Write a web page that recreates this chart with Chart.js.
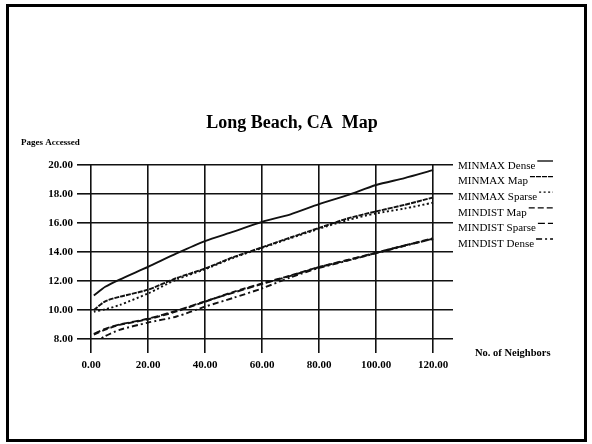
<!DOCTYPE html>
<html>
<head>
  <title>Long Beach, CA Map</title>
  <script src="https://cdn.jsdelivr.net/npm/chart.js"></script>
  <style>
    html, body { margin: 0; padding: 0; background: #fff; }
  </style>
</head>
<body>
  <div style="width: 592px; height: 444px;">
    <canvas id="lbChart" width="592" height="444"></canvas>
  </div>

  <script>
    // values
    const neighbors = [1, 5, 10, 20, 30, 40, 50, 60, 70, 80, 90, 100, 110, 120];
    const xTickValues = [0, 20, 40, 60, 80, 100, 120];

    const minmaxDense  = [11.0, 11.6, 12.1, 12.98, 13.9, 14.75, 15.4, 16.08, 16.6, 17.3, 17.92, 18.62, 19.1, 19.65];
    const minmaxMap    = [10.0, 10.6, 10.91, 11.4, 12.2, 12.86, 13.65, 14.32, 15.0, 15.66, 16.31, 16.8, 17.25, 17.76];
    const minmaxSparse = [9.88, 10.05, 10.34, 11.14, 12.1, 12.8, 13.6, 14.28, 14.95, 15.6, 16.2, 16.66, 17.0, 17.4];
    const mindistMap    = [8.3, 8.65, 8.97, 9.36, 9.9, 10.57, 11.25, 11.83, 12.38, 12.96, 13.43, 13.93, 14.45, 14.95];
    const mindistSparse = [8.35, 8.7, 9.0, 9.4, 9.95, 10.6, 11.2, 11.8, 12.35, 12.95, 13.45, 13.95, 14.45, 14.9];
    const mindistDense  = [7.7, 8.2, 8.63, 9.13, 9.55, 10.23, 10.84, 11.49, 12.25, 12.9, 13.4, 13.92, 14.42, 14.92];

    const seriesLabels = ['MINMAX Dense', 'MINMAX Map', 'MINMAX Sparse', 'MINDIST Map', 'MINDIST Sparse', 'MINDIST Dense'];
    const seriesValues = [minmaxDense, minmaxMap, minmaxSparse, mindistMap, mindistSparse, mindistDense];
    const seriesDash = [[], [5, 1], [2, 2.5], [6, 3], [7, 3], [6, 3, 2, 3]];

    const serif = "'Liberation Serif', 'DejaVu Serif', serif";

    // title, axis captions, side legend and page frame
    const paperPlugin = {
      id: 'paper',
      afterDraw(chart) {
        const ctx = chart.ctx;
        ctx.save();
        ctx.fillStyle = '#000';
        ctx.strokeStyle = '#000';

        ctx.lineWidth = 3;
        ctx.strokeRect(7.5, 5.5, 578, 435);

        ctx.textBaseline = 'middle';
        ctx.textAlign = 'center';
        ctx.font = 'bold 18px ' + serif;
        ctx.fillText('Long Beach, CA  Map', 292, 123);

        ctx.textAlign = 'left';
        ctx.font = 'bold 9px ' + serif;
        ctx.fillText('Pages Accessed', 21, 143);

        ctx.font = 'bold 10.5px ' + serif;
        ctx.fillText('No. of Neighbors', 475, 353);

        ctx.font = '11px ' + serif;
        chart.data.datasets.forEach((ds, i) => {
          const y = 166 + i * 15.6;
          ctx.fillText(ds.label, 458, y);
          const end = 458 + ctx.measureText(ds.label).width + 2;
          ctx.beginPath();
          ctx.lineWidth = 1.3;
          ctx.setLineDash(ds.borderDash);
          ctx.moveTo(end, y - 5);
          ctx.lineTo(553, y - 5);
          ctx.stroke();
        });
        ctx.setLineDash([]);
        ctx.restore();
      }
    };

    const datasets = seriesLabels.map((label, i) => ({
      label: label,
      data: seriesValues[i].map((v, j) => ({ x: neighbors[j], y: v })),
      borderColor: '#111',
      borderWidth: 1.9,
      borderDash: seriesDash[i],
      pointRadius: 0,
      tension: 0.25,
      fill: false
    }));

    new Chart(document.getElementById('lbChart').getContext('2d'), {
      type: 'line',
      data: { datasets: datasets },
      options: {
        responsive: false,
        animation: false,
        layout: { padding: { top: 165, right: 139, bottom: 0, left: 0 } },
        plugins: {
          legend: { display: false },
          title: { display: false },
          tooltip: { enabled: false }
        },
        scales: {
          x: {
            type: 'linear',
            min: 0,
            max: 127,
            afterBuildTicks: (axis) => { axis.ticks = xTickValues.map(v => ({ value: v })); },
            afterFit: (axis) => { axis.height = 105; },
            border: { display: false },
            grid: { color: '#111', lineWidth: 1.6, tickLength: 14 },
            ticks: {
              color: '#000',
              padding: 6,
              maxRotation: 0,
              font: { family: serif, size: 11, weight: 'bold' },
              callback: (v) => v.toFixed(2)
            }
          },
          y: {
            min: 8,
            max: 20,
            afterFit: (axis) => { axis.width = 91; },
            border: { display: false },
            grid: { color: '#111', lineWidth: 1.6, tickLength: 14 },
            ticks: {
              stepSize: 2,
              color: '#000',
              padding: 4,
              font: { family: serif, size: 11, weight: 'bold' },
              callback: (v) => v.toFixed(2)
            }
          }
        }
      },
      plugins: [paperPlugin]
    });
  </script>
</body>
</html>
